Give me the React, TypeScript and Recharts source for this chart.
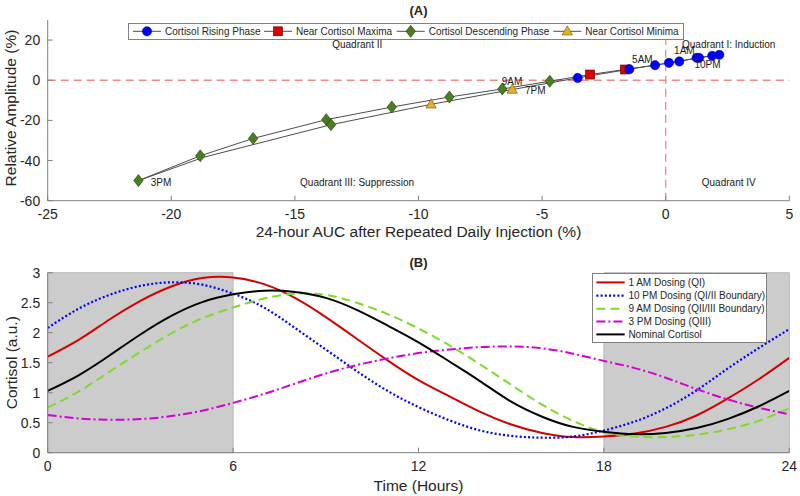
import React from 'react';
import {
  ComposedChart,
  Scatter,
  Line,
  XAxis,
  YAxis,
  ReferenceLine,
  ReferenceArea,
  Legend,
  Label,
} from 'recharts';

const FONT = '"Liberation Sans", Arial, Helvetica, sans-serif';
const AXIS = '#808080';
const TXT = '#262626';

// ---------------- Panel A data ----------------
const loopX = [-21.33, -18.83, -16.69, -13.73, -11.08, -8.75, -6.61, -4.69, -3.06, -1.65, -0.43, 0.55, 1.25, 2.17, 1.88, 1.35, 0.13, -1.47, -3.56, -6.21, -9.49, -13.54, -18.7, -21.33];
const loopY = [-50, -37.65, -29, -19.65, -13.35, -8.35, -4.35, -0.5, 2.85, 5.35, 7.5, 9.35, 11.15, 12.65, 12.15, 11.15, 8.65, 5.5, 1.15, -4.65, -12, -22.15, -38.4, -50];
const loopPhase = ['desc', 'desc', 'desc', 'desc', 'desc', 'desc', 'desc', 'desc', 'max', 'max', 'rise', 'rise', 'rise', 'rise', 'rise', 'rise', 'rise', 'rise', 'rise', 'min', 'min', 'desc', '', ''];

const annotText = ['3PM', '9AM', '7PM', '5AM', '1AM', '10PM', 'Quadrant II', 'Quadrant I: Induction', 'Quadrant III: Suppression', 'Quadrant IV'];
const annotX = [-20.83, -6.63, -5.69, -1.36, 0.34, 1.16, -13.49, 0.66, -14.79, 1.46];
const annotY = [-50.85, -0.5, -5.35, 10.35, 14.85, 7.85, 17.85, 18, -50.85, -50.85];

const xTicksA = [-25, -20, -15, -10, -5, 0, 5];
const yTicksA = [-60, -40, -20, 0, 20];
const legendALabels = ['Cortisol Rising Phase', 'Near Cortisol Maxima', 'Cortisol Descending Phase', 'Near Cortisol Minima'];

// ---------------- Panel B data ----------------
const hours = [0, 1, 2, 3, 4, 5, 6, 7, 8, 9, 10, 11, 12, 13, 14, 15, 16, 17, 18, 19, 20, 21, 22, 23, 24];
const dose1AM = [1.60, 1.88, 2.22, 2.53, 2.77, 2.91, 2.92, 2.81, 2.58, 2.26, 1.90, 1.54, 1.21, 0.94, 0.68, 0.47, 0.33, 0.26, 0.27, 0.32, 0.43, 0.62, 0.90, 1.22, 1.58];
const dose10PM = [2.08, 2.40, 2.63, 2.78, 2.84, 2.80, 2.65, 2.42, 2.08, 1.72, 1.36, 1.03, 0.76, 0.54, 0.37, 0.28, 0.25, 0.27, 0.37, 0.52, 0.74, 1.04, 1.40, 1.74, 2.06];
const dose9AM = [0.75, 1.02, 1.35, 1.68, 1.99, 2.24, 2.42, 2.57, 2.65, 2.63, 2.50, 2.31, 2.07, 1.79, 1.47, 1.13, 0.80, 0.53, 0.34, 0.27, 0.26, 0.30, 0.39, 0.53, 0.74];
const dose3PM = [0.63, 0.57, 0.55, 0.56, 0.61, 0.70, 0.83, 0.98, 1.15, 1.32, 1.46, 1.57, 1.66, 1.72, 1.76, 1.77, 1.74, 1.65, 1.53, 1.41, 1.25, 1.06, 0.89, 0.75, 0.64];
const nominal = [1.03, 1.29, 1.62, 1.97, 2.28, 2.51, 2.64, 2.70, 2.68, 2.58, 2.38, 2.12, 1.84, 1.52, 1.19, 0.85, 0.60, 0.43, 0.35, 0.31, 0.33, 0.41, 0.56, 0.77, 1.03];

const xTicksB = [0, 6, 12, 18, 24];
const yTicksB = [0, 0.5, 1, 1.5, 2, 2.5, 3];
const legendBLabels = ['1 AM Dosing (QI)', '10 PM Dosing (QI/II Boundary)', '9 AM Dosing (QII/III Boundary)', '3 PM Dosing (QIII)', 'Nominal Cortisol'];

// ---------------- derived ----------------
const loopPts = loopX.map((x, i) => ({ x, y: loopY[i], phase: loopPhase[i] }));
const risePts = loopPts.filter((p) => p.phase === 'rise');
const maxPts = loopPts.filter((p) => p.phase === 'max');
const descPts = loopPts.filter((p) => p.phase === 'desc');
const minPts = loopPts.filter((p) => p.phase === 'min');
const annotPts = annotText.map((label, i) => ({ x: annotX[i], y: annotY[i], label }));

const dataB = hours.map((t, i) => ({
  t,
  a: dose1AM[i],
  b: dose10PM[i],
  c: dose9AM[i],
  d: dose3PM[i],
  n: nominal[i],
}));

// ---------------- marker shapes ----------------
const circleShape = (p: any) => (
  <circle cx={p.cx} cy={p.cy} r={4.6} fill="#0000ff" stroke="#00009a" strokeWidth={0.6} />
);
const squareShape = (p: any) => (
  <rect x={p.cx - 4.5} y={p.cy - 4.5} width={9} height={9} fill="#e00000" stroke="#5a0000" strokeWidth={0.6} />
);
const diamondShape = (p: any) => (
  <polygon
    points={`${p.cx},${p.cy - 6} ${p.cx + 4.7},${p.cy} ${p.cx},${p.cy + 6} ${p.cx - 4.7},${p.cy}`}
    fill="#4a7f1f"
    stroke="#1c3808"
    strokeWidth={0.6}
  />
);
const triangleShape = (p: any) => (
  <polygon
    points={`${p.cx},${p.cy - 5.5} ${p.cx + 5.2},${p.cy + 3.7} ${p.cx - 5.2},${p.cy + 3.7}`}
    fill="#e5af2d"
    stroke="#6b5210"
    strokeWidth={0.6}
  />
);
const noShape = () => <g />;
const textShape = (p: any) => (
  <text x={p.cx} y={p.cy} dy="0.35em" fontSize={10} fill="#1a1a1a">
    {p.payload && p.payload.label}
  </text>
);

const LegendA = () => {
  const starts = [5, 136, 268.7, 425.3];
  const shapes = [circleShape, squareShape, diamondShape, triangleShape];
  const cy = 8.3;
  return (
    <svg width={556} height={17} style={{ display: 'block', overflow: 'visible' }}>
      <rect x={0.5} y={0.5} width={555} height={16} fill="#fff" stroke="#808080" strokeWidth={1} />
      {legendALabels.map((lab, i) => (
        <g key={lab}>
          <line x1={starts[i]} x2={starts[i] + 28} y1={cy} y2={cy} stroke="#4d4d4d" strokeWidth={1} />
          {shapes[i]({ cx: starts[i] + 14, cy })}
          <text x={starts[i] + 32} y={cy} dy="0.35em" fontSize={10} fill={TXT} fontFamily={FONT}>
            {lab}
          </text>
        </g>
      ))}
    </svg>
  );
};

const lineStylesB = [
  { stroke: '#d40000', dash: undefined as string | undefined, w: 2 },
  { stroke: '#0000ff', dash: '2 2.2', w: 2.2 },
  { stroke: '#7ddc2b', dash: '9 5', w: 2 },
  { stroke: '#d400d4', dash: '9 3 2 3', w: 2 },
  { stroke: '#000000', dash: undefined as string | undefined, w: 2 },
];

const LegendB = () => {
  const rows = [9.4, 22.7, 35.7, 48.4, 61.4];
  return (
    <svg width={175} height={70} style={{ display: 'block', overflow: 'visible' }}>
      <rect x={0.5} y={0.5} width={174} height={69} fill="#fff" stroke="#808080" strokeWidth={1} />
      {legendBLabels.map((lab, i) => (
        <g key={lab}>
          <line
            x1={4.4}
            x2={32.7}
            y1={rows[i]}
            y2={rows[i]}
            stroke={lineStylesB[i].stroke}
            strokeWidth={lineStylesB[i].w}
            strokeDasharray={lineStylesB[i].dash}
          />
          <text x={36.4} y={rows[i]} dy="0.35em" fontSize={10} fill={TXT} fontFamily={FONT}>
            {lab}
          </text>
        </g>
      ))}
    </svg>
  );
};

const App = () => {
  return (
    <div
      style={{
        position: 'absolute',
        left: 0,
        top: 0,
        width: 800,
        height: 496,
        background: '#fff',
        fontFamily: FONT,
      }}
    >
      {/* Panel A */}
      <div style={{ position: 'absolute', left: 0, top: 0 }}>
        <ComposedChart width={800} height={240} margin={{ top: 20, right: 10.7, bottom: 0, left: 0 }}>
          <XAxis
            xAxisId="b"
            type="number"
            dataKey="x"
            domain={[-25, 5]}
            ticks={xTicksA}
            interval={0}
            height={39.3}
            tickSize={-5}
            tickMargin={13}
            stroke={AXIS}
            tick={{ fill: TXT, fontSize: 14 }}
            allowDataOverflow
          >
            <Label
              content={(p: any) => {
                const vb = p.viewBox || { x: 47.7, width: 741.6 };
                const cx = vb.x + vb.width / 2;
                return (
                  <g>
                    <text x={cx} y={236.5} textAnchor="middle" fontSize={15.5} fill={TXT}>
                      24-hour AUC after Repeated Daily Injection (%)
                    </text>
                    <text x={cx} y={14.5} textAnchor="middle" fontSize={13} fontWeight="bold" fill={TXT}>
                      (A)
                    </text>
                  </g>
                );
              }}
            />
          </XAxis>
          <XAxis
            xAxisId="t"
            orientation="top"
            type="number"
            domain={[-25, 5]}
            ticks={xTicksA}
            interval={0}
            height={0}
            tickSize={-5}
            tick={false}
            stroke={AXIS}
            allowDataOverflow
          />
          <YAxis
            yAxisId="l"
            type="number"
            dataKey="y"
            domain={[-60, 30]}
            ticks={yTicksA}
            interval={0}
            width={47.7}
            tickSize={-5}
            tickMargin={12.5}
            stroke={AXIS}
            tick={{ fill: TXT, fontSize: 14 }}
            allowDataOverflow
          >
            <Label
              content={() => (
                <text x={11} y={108} dy="0.35em" textAnchor="middle" fontSize={15.5} fill={TXT} transform="rotate(-90, 11, 108)">
                  Relative Amplitude (%)
                </text>
              )}
            />
          </YAxis>
          <YAxis
            yAxisId="r"
            orientation="right"
            type="number"
            domain={[-60, 30]}
            ticks={yTicksA}
            interval={0}
            width={0}
            tickSize={-5}
            tick={false}
            stroke={AXIS}
            allowDataOverflow
          />
          <ReferenceLine xAxisId="b" yAxisId="l" y={0} stroke="#f08a8a" strokeDasharray="8 5" strokeWidth={1.3} />
          <ReferenceLine xAxisId="b" yAxisId="l" x={0} stroke="#f08a8a" strokeDasharray="8 5" strokeWidth={1.3} />
          <Scatter
            xAxisId="b"
            yAxisId="l"
            data={loopPts}
            line={{ stroke: '#4d4d4d', strokeWidth: 1 }}
            lineType="joint"
            shape={noShape}
            isAnimationActive={false}
          />
          <Scatter xAxisId="b" yAxisId="l" data={descPts} shape={diamondShape} isAnimationActive={false} />
          <Scatter xAxisId="b" yAxisId="l" data={minPts} shape={triangleShape} isAnimationActive={false} />
          <Scatter xAxisId="b" yAxisId="l" data={maxPts} shape={squareShape} isAnimationActive={false} />
          <Scatter xAxisId="b" yAxisId="l" data={risePts} shape={circleShape} isAnimationActive={false} />
          <Scatter xAxisId="b" yAxisId="l" data={annotPts} shape={textShape} isAnimationActive={false} />
          <Legend
            content={LegendA}
            layout="vertical"
            align="center"
            verticalAlign="middle"
            wrapperStyle={{ position: 'absolute', left: 128, top: 22.7, width: 556, height: 17 }}
          />
        </ComposedChart>
      </div>

      {/* Panel B */}
      <div style={{ position: 'absolute', left: 0, top: 240 }}>
        <ComposedChart width={800} height={256} data={dataB} margin={{ top: 32.7, right: 10.7, bottom: 0, left: 0 }}>
          <ReferenceArea xAxisId="b" yAxisId="l" x1={0} x2={6} y1={0} y2={3} fill="#cccccc" fillOpacity={1} stroke="#b8b8b8" />
          <ReferenceArea xAxisId="b" yAxisId="l" x1={18} x2={24} y1={0} y2={3} fill="#cccccc" fillOpacity={1} stroke="#b8b8b8" />
          <XAxis
            xAxisId="b"
            type="number"
            dataKey="t"
            domain={[0, 24]}
            ticks={xTicksB}
            interval={0}
            height={43.3}
            tickSize={-5}
            tickMargin={13.5}
            stroke={AXIS}
            tick={{ fill: TXT, fontSize: 14 }}
            allowDataOverflow
          >
            <Label
              content={(p: any) => {
                const vb = p.viewBox || { x: 47.7, width: 741.6 };
                const cx = vb.x + vb.width / 2;
                return (
                  <g>
                    <text x={cx} y={250.5} textAnchor="middle" fontSize={15.5} fill={TXT}>
                      Time (Hours)
                    </text>
                    <text x={cx} y={26.8} textAnchor="middle" fontSize={13} fontWeight="bold" fill={TXT}>
                      (B)
                    </text>
                  </g>
                );
              }}
            />
          </XAxis>
          <XAxis
            xAxisId="t"
            orientation="top"
            type="number"
            domain={[0, 24]}
            ticks={xTicksB}
            interval={0}
            height={0}
            tickSize={-5}
            tick={false}
            stroke={AXIS}
            allowDataOverflow
          />
          <YAxis
            yAxisId="l"
            type="number"
            domain={[0, 3]}
            ticks={yTicksB}
            interval={0}
            width={47.7}
            tickSize={-5}
            tickMargin={12.5}
            stroke={AXIS}
            tick={{ fill: TXT, fontSize: 14 }}
            allowDataOverflow
          >
            <Label
              content={() => (
                <text x={11.5} y={122.7} dy="0.35em" textAnchor="middle" fontSize={15.5} fill={TXT} transform="rotate(-90, 11.5, 122.7)">
                  Cortisol (a.u.)
                </text>
              )}
            />
          </YAxis>
          <YAxis
            yAxisId="r"
            orientation="right"
            type="number"
            domain={[0, 3]}
            ticks={yTicksB}
            interval={0}
            width={0}
            tickSize={-5}
            tick={false}
            stroke={AXIS}
            allowDataOverflow
          />
          {(['a', 'b', 'c', 'd', 'n'] as const).map((k, i) => (
            <Line
              key={k}
              xAxisId="b"
              yAxisId="l"
              dataKey={k}
              type="natural"
              dot={false}
              stroke={lineStylesB[i].stroke}
              strokeWidth={lineStylesB[i].w}
              strokeDasharray={lineStylesB[i].dash}
              isAnimationActive={false}
            />
          ))}
          <Legend
            content={LegendB}
            layout="vertical"
            align="center"
            verticalAlign="middle"
            wrapperStyle={{ position: 'absolute', left: 592.3, top: 33.3, width: 175, height: 70 }}
          />
        </ComposedChart>
      </div>
    </div>
  );
};

export default App;
